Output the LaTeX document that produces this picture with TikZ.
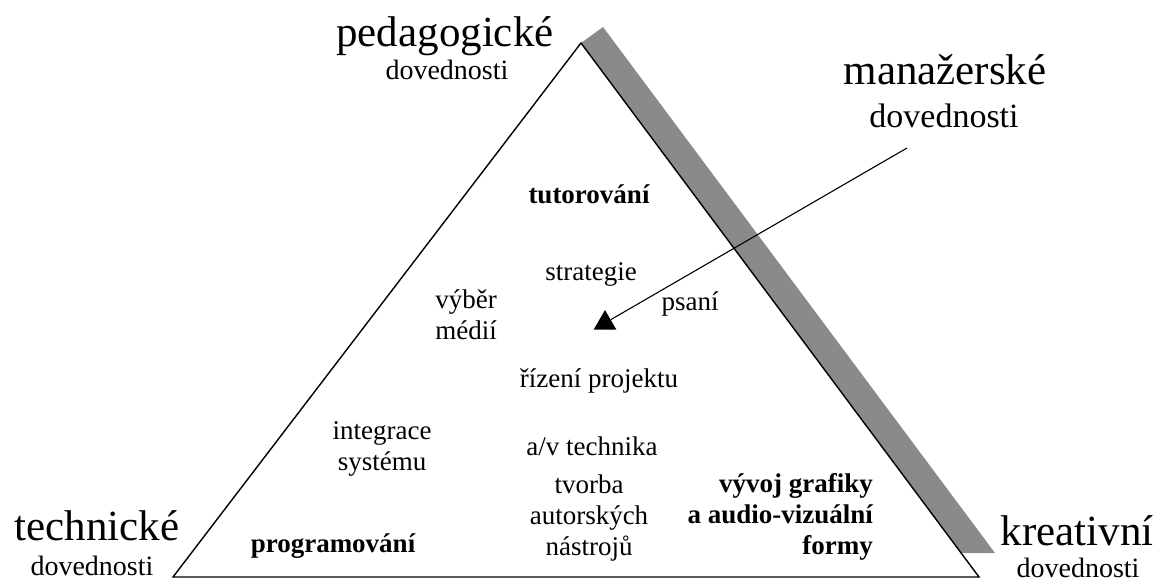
\documentclass[tikz,border=0pt]{standalone}
\usepackage{fontspec}
\setmainfont{Liberation Serif}
\usetikzlibrary{shapes.geometric, positioning}
\definecolor{bandgray}{RGB}{138,138,138}
\tikzstyle{bigname} = [
	inner sep=0pt,
	anchor=base,
	font=\fontsize{43}{48}\selectfont
]
\tikzstyle{smallname} = [
	inner sep=0pt,
	anchor=base,
	font=\fontsize{28}{32}\selectfont
]
\tikzstyle{skill} = [
	inner sep=0pt,
	anchor=base,
	align=center,
	font=\fontsize{27}{31}\selectfont
]
\tikzstyle{skillbold} = [
	skill,
	font=\fontsize{27}{31}\selectfont\bfseries
]
\tikzstyle{marker} = [
	regular polygon,
	regular polygon sides=3,
	inner sep=0pt,
	minimum size=26pt,
	fill=black
]
\tikzstyle{pointer} = [line width=1.1pt]

\begin{document}
\begin{tikzpicture}[x=1pt, y=-1pt]
		\useasboundingbox (0,0) rectangle (1167,583);

		\coordinate (top) at (581,43);
		\coordinate (left) at (173,577);
		\coordinate (right) at (979,577);

		% grey band along the right side
		\fill [bandgray] (top) -- (603,27) -- (995,553) -- (961,553) -- cycle;
		\draw [line width=1.4pt, line join=miter] (top) -- (right) -- (left) -- cycle;

		\node (pedag) [bigname] at (445,47) {pedagogické};
		\node (pedagdov) [smallname] at (447,80) {dovednosti};
		\node (manag) [bigname] at (945,85) {manažerské};
		\node (managdov) [smallname, font=\fontsize{34}{38}\selectfont] at (944,128) {dovednosti};
		\node (techn) [bigname] at (97,540) {technické};
		\node (techndov) [smallname] at (92,575) {dovednosti};
		\node (kreat) [bigname] at (1077,545) {kreativní};
		\node (kreatdov) [smallname] at (1078,577) {dovednosti};

		\node (tutor) [skillbold] at (589,203) {tutorování};
		\node (strat) [skill] at (591,280) {strategie};
		\node (media) [skill, anchor=north] at (466,290) {výběr\\médií};
		\node (psani) [skill] at (690,310) {psaní};
		\node (target) [marker] at (605,323) {};
		\node (rizeni) [skill] at (599,387) {řízení projektu};
		\node (integr) [skill, anchor=north] at (382,421) {integrace\\systému};
		\node (avtech) [skill] at (592,455) {a/v technika};
		\node (tvorba) [skill, anchor=north] at (589,475) {tvorba\\autorských\\nástrojů};
		\node (grafika) [skillbold, align=right, anchor=north east] at (873,473) {vývoj grafiky\\a audio-vizuální\\formy};
		\node (program) [skillbold] at (333,552) {programování};

		\coordinate (managfoot) at (907,148);
		\draw [pointer] (managfoot) -- (target);
	\end{tikzpicture}
\end{document}
